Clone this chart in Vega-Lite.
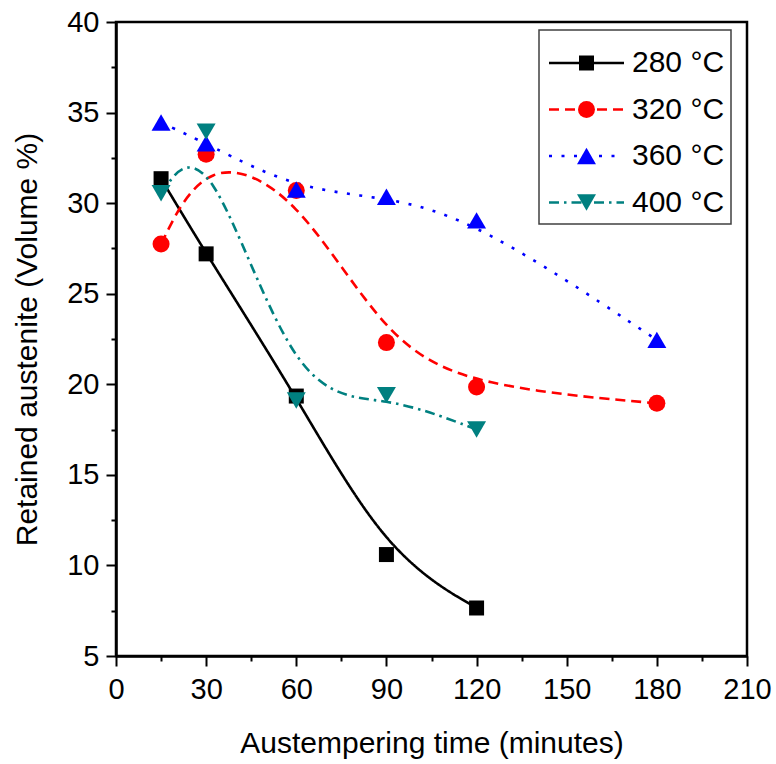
{
  "$schema": "https://vega.github.io/schema/vega-lite/v6.json",
  "width": 631,
  "height": 634,
  "autosize": "none",
  "padding": {"left": 116, "top": 22, "right": 29, "bottom": 108},
  "background": "white",
  "config": {
    "font": "Liberation Sans",
    "view": {"stroke": "black", "strokeWidth": 2.5},
    "axis": {
      "grid": false,
      "domainColor": "black",
      "domainWidth": 2.5,
      "tickColor": "black",
      "tickWidth": 2,
      "labelFont": "Liberation Sans",
      "labelFontSize": 29,
      "labelColor": "black",
      "labelFlush": false,
      "labelOverlap": false,
      "titleFont": "Liberation Sans",
      "titleFontSize": 30,
      "titleFontWeight": "normal",
      "titleColor": "black"
    }
  },
  "data": {
    "values": [
      {"T": "280 °C", "time": 15, "ra": 31.35},
      {"T": "280 °C", "time": 30, "ra": 27.2},
      {"T": "280 °C", "time": 60, "ra": 19.35},
      {"T": "280 °C", "time": 90, "ra": 10.6},
      {"T": "280 °C", "time": 120, "ra": 7.65},
      {"T": "320 °C", "time": 15, "ra": 27.75},
      {"T": "320 °C", "time": 30, "ra": 32.7},
      {"T": "320 °C", "time": 60, "ra": 30.7},
      {"T": "320 °C", "time": 90, "ra": 22.3},
      {"T": "320 °C", "time": 120, "ra": 19.85},
      {"T": "320 °C", "time": 180, "ra": 18.95},
      {"T": "360 °C", "time": 15, "ra": 34.45},
      {"T": "360 °C", "time": 30, "ra": 33.3},
      {"T": "360 °C", "time": 60, "ra": 30.75},
      {"T": "360 °C", "time": 90, "ra": 30.35},
      {"T": "360 °C", "time": 120, "ra": 29.05},
      {"T": "360 °C", "time": 180, "ra": 22.45},
      {"T": "400 °C", "time": 15, "ra": 30.55},
      {"T": "400 °C", "time": 30, "ra": 33.95},
      {"T": "400 °C", "time": 60, "ra": 19.1},
      {"T": "400 °C", "time": 90, "ra": 19.4},
      {"T": "400 °C", "time": 120, "ra": 17.5}
    ]
  },
  "encoding": {
    "x": {
      "field": "time",
      "type": "quantitative",
      "scale": {"domain": [0, 210], "nice": false, "zero": false},
      "axis": {
        "title": "Austempering time (minutes)",
        "values": [0, 15, 30, 45, 60, 75, 90, 105, 120, 135, 150, 165, 180, 195, 210],
        "labelExpr": "datum.value % 30 === 0 ? datum.label : ''",
        "tickSize": {"condition": {"test": "datum.value % 30 === 0", "value": 10}, "value": 5},
        "labelPadding": 9,
        "titlePadding": 24
      }
    },
    "y": {
      "field": "ra",
      "type": "quantitative",
      "scale": {"domain": [5, 40], "nice": false, "zero": false},
      "axis": {
        "title": "Retained austenite (Volume %)",
        "values": [5, 7.5, 10, 12.5, 15, 17.5, 20, 22.5, 25, 27.5, 30, 32.5, 35, 37.5, 40],
        "labelExpr": "datum.value % 5 === 0 ? datum.label : ''",
        "tickSize": {"condition": {"test": "datum.value % 5 === 0", "value": 10}, "value": 5},
        "labelPadding": 7,
        "titlePadding": 24
      }
    }
  },
  "layer": [
    {
      "mark": {"type": "line", "interpolate": "basis", "strokeWidth": 2.6},
      "encoding": {
        "stroke": {
          "field": "T",
          "type": "nominal",
          "scale": {
            "domain": ["280 °C", "320 °C", "360 °C", "400 °C"],
            "range": ["#000000", "#ff0000", "#0000ff", "#008080"]
          },
          "legend": {
            "title": " ",
            "titleFontSize": 2,
            "titlePadding": 10,
            "orient": "none",
            "legendX": 423,
            "legendY": 8,
            "padding": 6,
            "rowPadding": 16.5,
            "strokeColor": "#404040",
            "symbolType": "M-7.5,0H7.5",
            "symbolSize": 100,
            "symbolStrokeWidth": 2.6,
            "symbolOffset": 26.5,
            "labelOffset": 30.5,
            "labelFont": "Liberation Sans",
            "labelFontSize": 30,
            "labelColor": "black",
            "labelLimit": 300,
            "labelExpr": "datum.label + '\u00a0\u00a0'",
            "encode": {"legend": {"update": {"strokeWidth": {"value": 1.5}}}}
          }
        },
        "strokeDash": {
          "field": "T",
          "type": "nominal",
          "scale": {
            "domain": ["280 °C", "320 °C", "360 °C", "400 °C"],
            "range": [[1, 0], [10, 6], [3, 9.5], [10, 5, 2.5, 5]]
          }
        }
      }
    },
    {
      "mark": {"type": "point", "filled": true, "opacity": 1, "strokeWidth": 0},
      "encoding": {
        "fill": {
          "field": "T",
          "type": "nominal",
          "scale": {"range": ["#000000", "#ff0000", "#0000ff", "#008080"]},
          "legend": {
            "title": " ",
            "titleFontSize": 2,
            "titlePadding": 10,
            "orient": "none",
            "legendX": 423,
            "legendY": 8,
            "padding": 6,
            "rowPadding": 16.5,
            "symbolOffset": 26.5,
            "symbolStrokeWidth": 0,
            "symbolOpacity": 1,
            "labelOffset": 30.5,
            "labelFont": "Liberation Sans",
            "labelFontSize": 30,
            "labelOpacity": 0,
            "labelLimit": 300
          }
        },
        "shape": {
          "field": "T",
          "type": "nominal",
          "scale": {"range": ["square", "circle", "triangle-up", "triangle-down"]}
        },
        "size": {
          "field": "T",
          "type": "nominal",
          "scale": {"type": "ordinal", "range": [225, 289, 360, 360]}
        }
      }
    }
  ]
}
